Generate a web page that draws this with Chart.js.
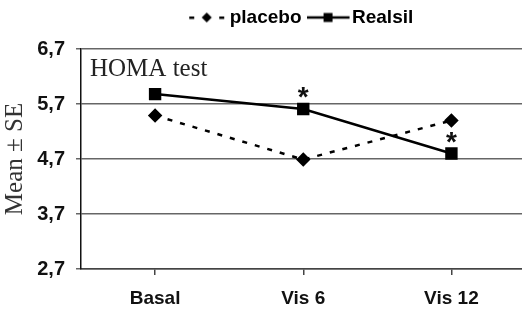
<!DOCTYPE html>
<html>
<head>
<meta charset="utf-8">
<script src="https://cdn.jsdelivr.net/npm/chart.js@4"></script>
<style>
  html, body { margin: 0; padding: 0; background: #fff; overflow: hidden; }
  #wrap { width: 535px; height: 312px; }
</style>
</head>
<body>
<div id="wrap"><canvas id="homaChart"></canvas></div>
<script>
// values
const labels = ['Basal', 'Vis 6', 'Vis 12'];
const placeboData = [5.49, 4.69, 5.40];
const realsilData = [5.88, 5.61, 4.80];
const significant = [false, true, true]; // asterisk above the Realsil point
const yTicks = [2.7, 3.7, 4.7, 5.7, 6.7];

// little legend icons: line + marker, like the original
function legendIcon(kind) {
    const c = document.createElement('canvas');
    const g = c.getContext('2d');
    g.fillStyle = '#000';
    if (kind === 'placebo') {
        c.width = 39; c.height = 12;
        g.fillStyle = '#000';
        g.fillRect(2, 5, 5, 2.5);
        g.fillRect(32, 5, 5, 2.5);
        g.beginPath();
        g.moveTo(19.5, 1); g.lineTo(24.5, 6); g.lineTo(19.5, 11); g.lineTo(14.5, 6);
        g.closePath(); g.fill();
    } else {
        c.width = 45; c.height = 12;
        g.strokeStyle = '#000'; g.fillStyle = '#000'; g.lineWidth = 2.5;
        g.beginPath(); g.moveTo(0, 6); g.lineTo(43, 6); g.stroke();
        g.fillRect(17, 1.5, 9, 9);
    }
    return c;
}
const icons = [legendIcon('placebo'), legendIcon('realsil')];

// centre the legend over the plot area and pull it up a little
const legendShift = {
    id: 'legendShift',
    afterLayout(chart) {
        const lg = chart.legend, area = chart.chartArea;
        const h = lg.bottom - lg.top;
        lg.left = area.left;
        lg.right = area.right;
        lg.top -= 12;
        lg.bottom = lg.top + h;
    }
};

// "HOMA test" caption and the asterisks
const annotations = {
    id: 'annotations',
    afterDatasetsDraw(chart) {
        const { ctx, chartArea } = chart;
        ctx.save();
        ctx.fillStyle = '#222';
        ctx.font = '25px "Liberation Serif"';
        ctx.textAlign = 'left';
        ctx.textBaseline = 'alphabetic';
        ctx.fillText('HOMA test', chartArea.left + 9, chartArea.top + 27);
        ctx.fillStyle = '#111';
        ctx.font = 'bold 28px "Liberation Sans"';
        ctx.textAlign = 'center';
        const meta = chart.getDatasetMeta(1);
        meta.data.forEach((pt, i) => {
            if (significant[i]) ctx.fillText('*', pt.x, pt.y - 3);
        });
        ctx.restore();
    }
};

const ctx = document.getElementById('homaChart').getContext('2d');
const homaChart = new Chart(ctx, {
    type: 'line',
    data: {
        labels: labels,
        datasets: [
            {
                label: 'placebo',
                data: placeboData,
                borderColor: '#000',
                backgroundColor: '#000',
                borderWidth: 2.5,
                borderDash: [5, 8],
                pointStyle: 'rectRot',
                pointRadius: 5.5,
                fill: false,
            },
            {
                label: 'Realsil',
                data: realsilData,
                borderColor: '#000',
                backgroundColor: '#000',
                borderWidth: 2.5,
                pointStyle: 'rect',
                pointRadius: 7,
                fill: false,
            }
        ]
    },
    options: {
        responsive: true,
        maintainAspectRatio: false,
        animation: false,
        layout: { padding: { top: 6, right: 0, left: 0, bottom: 0 } },
        plugins: {
            tooltip: { enabled: false },
            legend: {
                position: 'top',
                labels: {
                    usePointStyle: true,
                    pointStyleWidth: 27,
                    padding: 14,
                    color: '#000',
                    font: { family: 'Liberation Sans', size: 19, weight: 'bold' },
                    generateLabels: chart => chart.data.datasets.map((ds, i) => ({
                        text: ds.label,
                        pointStyle: icons[i],
                        fillStyle: '#000',
                        strokeStyle: '#000',
                        lineWidth: 0,
                        fontColor: '#000',
                        datasetIndex: i,
                    }))
                }
            }
        },
        scales: {
            x: {
                offset: true,
                afterFit: s => { s.height = 43; },
                border: { color: '#444', width: 1.5 },
                grid: { drawOnChartArea: false, color: '#444', lineWidth: 1.5, tickLength: 6 },
                ticks: {
                    padding: 12,
                    color: '#111',
                    font: { family: 'Liberation Sans', size: 19, weight: 'bold' }
                }
            },
            y: {
                min: 2.7,
                max: 6.7,
                afterBuildTicks: s => { s.ticks = yTicks.map(v => ({ value: v })); },
                afterFit: s => { s.width = 81; },
                border: { color: '#111', width: 1.5 },
                grid: { color: '#666', lineWidth: 1.5, tickLength: 5 },
                ticks: {
                    padding: 11,
                    color: '#111',
                    font: { family: 'Liberation Sans', size: 20, weight: 'bold' },
                    callback: v => Number(v).toFixed(1).replace('.', ',')
                },
                title: {
                    display: true,
                    text: 'Mean ± SE',
                    color: '#333',
                    padding: 0,
                    font: { family: 'Liberation Serif', size: 25 }
                }
            }
        }
    },
    plugins: [legendShift, annotations]
});
</script>
</body>
</html>
